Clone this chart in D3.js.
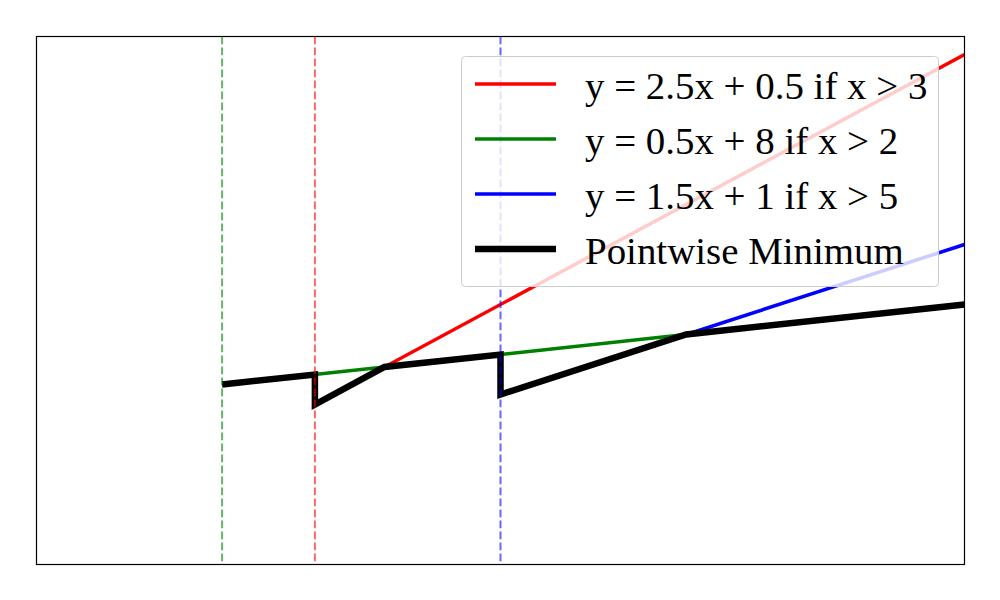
<!DOCTYPE html>
<html>
<head>
<meta charset="utf-8">
<script src="https://cdn.jsdelivr.net/npm/d3@7"></script>
<style>
  body { margin: 0; background: #fff; }
  svg { display: block; }
</style>
</head>
<body>
<div id="chart"></div>
<script>
// pieces of each line
const redX = [3, 10];
const redY = [8, 25.5];
const greenX = [2, 10];
const greenY = [9, 13];
const blueX = [5, 10];
const blueY = [8.5, 16];
const minX = [2, 3, 3, 3.75, 5, 5, 7, 10];
const minY = [9, 9.5, 8, 9.875, 10.5, 8.5, 11.5, 13];
const thresholds = [2, 3, 5];
const thresholdColors = ["green", "red", "blue"];

const labels = [
  "y = 2.5x + 0.5 if x > 3",
  "y = 0.5x + 8 if x > 2",
  "y = 1.5x + 1 if x > 5",
  "Pointwise Minimum"
];
const legendColors = ["red", "green", "blue", "black"];

const W = 1000, H = 600;
const margin = { top: 36.5, right: 35.5, bottom: 35.5, left: 36.5 };

const svg = d3.select("#chart")
  .append("svg")
  .attr("width", W)
  .attr("height", H);

const xScale = d3.scaleLinear().domain([0, 10]).range([margin.left, W - margin.right]);
const yScale = d3.scaleLinear().domain([0, 26.4]).range([H - margin.bottom, margin.top]);

svg.append("clipPath").attr("id", "clip")
  .append("rect")
  .attr("x", margin.left).attr("y", margin.top)
  .attr("width", W - margin.left - margin.right)
  .attr("height", H - margin.top - margin.bottom);

const plot = svg.append("g").attr("clip-path", "url(#clip)");

const line = d3.line().x(d => xScale(d[0])).y(d => yScale(d[1]));
const pts = (xs, ys) => xs.map((x, i) => [x, ys[i]]);

[[redX, redY, "red"], [greenX, greenY, "green"], [blueX, blueY, "blue"]].forEach(s => {
  plot.append("path")
    .attr("d", line(pts(s[0], s[1])))
    .attr("fill", "none")
    .attr("stroke", s[2])
    .attr("stroke-width", 3.5);
});

plot.append("path")
  .attr("d", line(pts(minX, minY)))
  .attr("fill", "none")
  .attr("stroke", "black")
  .attr("stroke-width", 6.5)
  .attr("stroke-linejoin", "miter");

thresholds.forEach((t, i) => {
  plot.append("line")
    .attr("x1", xScale(t)).attr("x2", xScale(t))
    .attr("y1", margin.top).attr("y2", H - margin.bottom)
    .attr("stroke", thresholdColors[i])
    .attr("stroke-opacity", 0.6)
    .attr("stroke-width", 2)
    .attr("stroke-dasharray", "7.7,3.3");
});

// axes frame
svg.append("rect")
  .attr("x", margin.left).attr("y", margin.top)
  .attr("width", W - margin.left - margin.right)
  .attr("height", H - margin.top - margin.bottom)
  .attr("fill", "none")
  .attr("stroke", "black")
  .attr("stroke-width", 1.2);

// legend
const legend = svg.append("g").attr("transform", "translate(461,56)");
legend.append("rect")
  .attr("x", 0.5).attr("y", 0.5)
  .attr("width", 477).attr("height", 230)
  .attr("rx", 4)
  .attr("fill", "white")
  .attr("fill-opacity", 0.8)
  .attr("stroke", "#cccccc")
  .attr("stroke-width", 1);

labels.forEach((lab, i) => {
  const cy = 28 + i * 55;
  legend.append("line")
    .attr("x1", 14).attr("x2", 95)
    .attr("y1", cy).attr("y2", cy)
    .attr("stroke", legendColors[i])
    .attr("stroke-width", i === 3 ? 6.5 : 3.5);
  legend.append("text")
    .attr("x", 124)
    .attr("y", cy + 14.5)
    .attr("font-family", "'Liberation Serif', 'Times New Roman', serif")
    .attr("font-size", "38.9px")
    .attr("fill", "black")
    .text(lab);
});
</script>
</body>
</html>
